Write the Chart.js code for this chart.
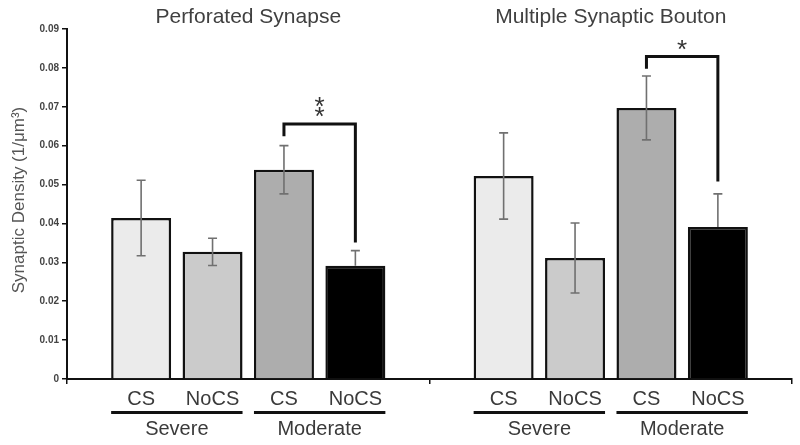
<!DOCTYPE html>
<html>
<head>
<meta charset="utf-8">
<script src="https://cdn.jsdelivr.net/npm/chart.js@4.4.1/dist/chart.umd.min.js"></script>
<style>
  html, body { margin: 0; padding: 0; background: #ffffff; }
  #wrap { width: 800px; height: 445px; }
</style>
</head>
<body>
<div id="wrap"><canvas id="c" width="800" height="445"></canvas></div>
<script>
// ---- data ----
const categories = ['Perforated Synapse', 'Multiple Synaptic Bouton'];
const seriesNames = ['Severe CS', 'Severe NoCS', 'Moderate CS', 'Moderate NoCS'];
const severeCS = [0.0414, 0.0522];
const severeNoCS = [0.0327, 0.0311];
const moderateCS = [0.0538, 0.0697];
const moderateNoCS = [0.0291, 0.0391];
const severeCSErr = [0.0097, 0.0111];
const severeNoCSErr = [0.0035, 0.0090];
const moderateCSErr = [0.0062, 0.0082];
const moderateNoCSErr = [0.0039, 0.0085];
const conditionLabels = ['CS', 'NoCS', 'CS', 'NoCS'];
const severityLabels = ['Severe', 'Moderate'];
const yTickValues = [0, 0.01, 0.02, 0.03, 0.04, 0.05, 0.06, 0.07, 0.08, 0.09];
const yTickLabels = ['0', '0.01', '0.02', '0.03', '0.04', '0.05', '0.06', '0.07', '0.08', '0.09'];
const yTitle = 'Synaptic Density (1/\u03BCm\u00B3)';
// significance brackets: category, from series, to series, bracket top, left end, right end, mark
const sigCategory = [0, 1];
const sigFrom = [2, 2];
const sigTo = [3, 3];
const sigTop = [0.0656, 0.0829];
const sigLeftEnd = [0.0624, 0.0798];
const sigRightEnd = [0.0351, 0.0508];
const sigStars = [2, 1];

const seriesValues = [severeCS, severeNoCS, moderateCS, moderateNoCS];
const seriesErrors = [severeCSErr, severeNoCSErr, moderateCSErr, moderateNoCSErr];
const fills = ['#ebebeb', '#cbcbcb', '#adadad', '#000000'];

const FONT = "'Liberation Sans', Arial, sans-serif";

const annotations = {
  id: 'annotations',
  afterDatasetsDraw(chart) {
    const ctx = chart.ctx;
    const ys = chart.scales.y;
    ctx.save();
    // error bars
    seriesValues.forEach((vals, di) => {
      const meta = chart.getDatasetMeta(di);
      meta.data.forEach((bar, i) => {
        const x = bar.x;
        const v = vals[i], e = seriesErrors[di][i];
        const yt = ys.getPixelForValue(v + e);
        const yb = ys.getPixelForValue(v - e);
        const yv = ys.getPixelForValue(v);
        ctx.strokeStyle = '#707070';
        ctx.lineWidth = 1.6;
        ctx.beginPath();
        ctx.moveTo(x, yt); ctx.lineTo(x, yv);
        ctx.moveTo(x - 4.5, yt); ctx.lineTo(x + 4.5, yt);
        ctx.stroke();
        if (fills[di] !== '#000000') {
          ctx.beginPath();
          ctx.moveTo(x, yv); ctx.lineTo(x, yb);
          ctx.moveTo(x - 4.5, yb); ctx.lineTo(x + 4.5, yb);
          ctx.stroke();
        }
      });
    });
    // significance brackets
    sigCategory.forEach((ci, k) => {
      const b1 = chart.getDatasetMeta(sigFrom[k]).data[ci];
      const b2 = chart.getDatasetMeta(sigTo[k]).data[ci];
      const x1 = b1.x, x2 = b2.x;
      const yTop = ys.getPixelForValue(sigTop[k]);
      ctx.strokeStyle = '#111';
      ctx.lineWidth = 3;
      ctx.lineJoin = 'miter';
      ctx.beginPath();
      ctx.moveTo(x1, ys.getPixelForValue(sigLeftEnd[k]));
      ctx.lineTo(x1, yTop);
      ctx.lineTo(x2, yTop);
      ctx.lineTo(x2, ys.getPixelForValue(sigRightEnd[k]));
      ctx.stroke();
      ctx.fillStyle = '#333';
      ctx.font = '26px ' + FONT;
      ctx.textAlign = 'center';
      ctx.textBaseline = 'alphabetic';
      const m = ctx.measureText('*');
      const off = (m.actualBoundingBoxAscent - m.actualBoundingBoxDescent) / 2;
      for (let s = 0; s < sigStars[k]; s++) {
        const cy = yTop - 11.5 - s * 10.6;
        ctx.fillText('*', (x1 + x2) / 2, cy + off);
      }
    });
    ctx.restore();
  },
  afterDraw(chart) {
    const ctx = chart.ctx;
    const xs = chart.scales.x;
    ctx.save();
    ctx.textAlign = 'center';
    // panel titles
    ctx.fillStyle = '#404040';
    ctx.font = '21px ' + FONT;
    ctx.textBaseline = 'alphabetic';
    categories.forEach((c, i) => ctx.fillText(c, xs.getPixelForValue(i), 23));
    // condition labels + severity underlines
    categories.forEach((c, ci) => {
      const bars = seriesValues.map((_, di) => chart.getDatasetMeta(di).data[ci]);
      ctx.fillStyle = '#3a3a3a';
      ctx.font = '20px ' + FONT;
      bars.forEach((b, di) => ctx.fillText(conditionLabels[di], b.x, 405));
      for (let g = 0; g < 2; g++) {
        const a = bars[g * 2], b = bars[g * 2 + 1];
        const left = a.x - a.width / 2, right = b.x + b.width / 2;
        ctx.fillStyle = '#111';
        ctx.fillRect(left, 411, right - left, 3);
        ctx.fillStyle = '#3a3a3a';
        ctx.fillText(severityLabels[g], (a.x + b.x) / 2, 435);
      }
    });
    // y title
    ctx.save();
    ctx.translate(24, 200);
    ctx.rotate(-Math.PI / 2);
    ctx.fillStyle = '#555';
    ctx.font = '17px ' + FONT;
    ctx.textBaseline = 'alphabetic';
    ctx.fillText(yTitle, 0, 0);
    ctx.restore();
    ctx.restore();
  }
};

new Chart(document.getElementById('c'), {
  type: 'bar',
  data: {
    labels: categories,
    datasets: seriesNames.map((n, di) => ({
      label: n,
      data: seriesValues[di],
      backgroundColor: fills[di],
      borderColor: '#111',
      borderWidth: 2.5,
      borderSkipped: 'bottom',
      categoryPercentage: 0.788,
      barPercentage: 0.84
    }))
  },
  options: {
    responsive: false,
    animation: false,
    devicePixelRatio: 1,
    layout: { padding: { top: 29, right: 8, bottom: 0, left: 0 } },
    plugins: { legend: { display: false }, tooltip: { enabled: false }, title: { display: false } },
    scales: {
      x: {
        type: 'category',
        grid: { display: true, drawOnChartArea: false, drawTicks: true, tickLength: 5, color: '#111', lineWidth: 1.5, offset: true },
        border: { display: true, color: '#111', width: 2 },
        ticks: { display: false },
        afterFit(s) { s.height = 66; }
      },
      y: {
        min: 0,
        max: 0.09,
        afterBuildTicks(s) { s.ticks = yTickValues.map(v => ({ value: v })); },
        ticks: {
          callback: (v, i) => yTickLabels[i],
          font: { family: FONT, size: 10, weight: 'bold' },
          color: '#444',
          padding: 3
        },
        grid: { display: true, drawOnChartArea: false, drawTicks: true, tickLength: 5, color: '#111', lineWidth: 1.5 },
        border: { display: true, color: '#111', width: 2 },
        afterFit(s) { s.width = 67; }
      }
    }
  },
  plugins: [annotations]
});
</script>
</body>
</html>
